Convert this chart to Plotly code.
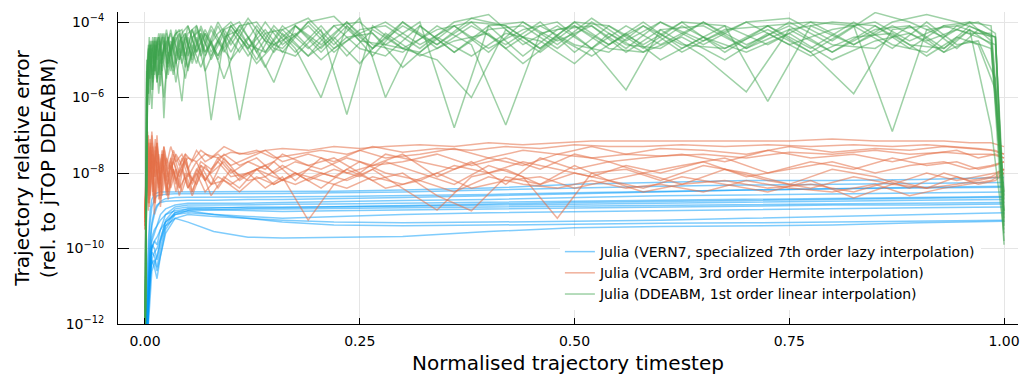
import numpy as np
import plotly.graph_objects as go

# ---------------- data (log10 of relative error) ----------------
x_grid_a = [0, 0.002, 0.004, 0.006, 0.009, 0.012, 0.016, 0.02, 0.025, 0.03,
            0.036, 0.043, 0.05, 0.06, 0.07, 0.085, 0.10, 0.12, 0.14, 0.16,
            0.19, 0.22, 0.25, 0.28, 0.32, 0.36, 0.40, 0.44, 0.48, 0.52,
            0.56, 0.60, 0.65, 0.70, 0.75, 0.80, 0.85, 0.89, 0.93, 0.96,
            0.985, 1.0]
x_grid_b = [0, 0.003, 0.005, 0.008, 0.011, 0.014, 0.018, 0.022, 0.027, 0.033,
            0.04, 0.047, 0.055, 0.065, 0.077, 0.092, 0.11, 0.13, 0.15, 0.175,
            0.205, 0.235, 0.265, 0.30, 0.34, 0.38, 0.42, 0.46, 0.50, 0.54,
            0.58, 0.625, 0.675, 0.725, 0.775, 0.825, 0.87, 0.91, 0.945, 0.97,
            0.99, 1.0]
x_grid_blue = [0, 0.002, 0.004, 0.006, 0.008, 0.011, 0.014, 0.018, 0.024, 0.035,
               0.05, 0.08, 0.12, 0.16, 0.22, 0.3, 0.4, 0.5, 0.6, 0.7, 0.8, 0.9, 1.0]

blue_log10 = [
    [-13, -11.0, -9.8, -9.0, -8.7, -8.55, -8.52, -8.5, -8.5, -8.5, -8.5, -8.5, -8.5, -8.5, -8.48, -8.45, -8.4, -8.3, -8.25, -8.2, -8.2, -8.17, -8.12],
    [-13, -11.5, -10.2, -9.3, -8.9, -8.7, -8.6, -8.58, -8.56, -8.55, -8.55, -8.55, -8.55, -8.54, -8.52, -8.5, -8.45, -8.4, -8.35, -8.32, -8.3, -8.28, -8.25],
    [-13, -11.8, -10.6, -9.8, -9.3, -9.0, -8.85, -8.78, -8.75, -8.73, -8.72, -8.72, -8.7, -8.7, -8.68, -8.65, -8.6, -8.55, -8.5, -8.45, -8.42, -8.4, -8.38],
    [-13, -12.2, -11.2, -10.3, -9.8, -9.6, -9.4, -9.1, -8.95, -8.85, -8.8, -8.8, -8.8, -8.78, -8.75, -8.73, -8.7, -8.65, -8.6, -8.58, -8.55, -8.52, -8.5],
    [-13, -12.5, -11.5, -10.6, -10.0, -9.8, -9.9, -9.5, -9.1, -8.9, -8.85, -8.85, -8.85, -8.83, -8.82, -8.8, -8.78, -8.75, -8.72, -8.7, -8.68, -8.65, -8.62],
    [-13, -12.4, -11.3, -10.4, -10.1, -10.2, -10.5, -10.0, -9.4, -9.05, -8.95, -8.92, -8.9, -8.9, -8.9, -8.88, -8.85, -8.82, -8.8, -8.78, -8.75, -8.72, -8.7],
    [-13, -12.6, -11.6, -10.7, -10.3, -10.5, -10.8, -10.2, -9.5, -9.1, -9.0, -8.98, -8.95, -8.95, -8.93, -8.92, -8.9, -8.88, -8.86, -8.84, -8.82, -8.8, -8.78],
    [-13, -12.3, -11.0, -10.1, -9.7, -9.5, -9.4, -9.25, -9.1, -9.0, -8.95, -8.97, -9.0, -9.02, -9.0, -8.98, -8.95, -8.92, -8.9, -8.88, -8.85, -8.85, -8.82],
    [-13, -12.5, -11.4, -10.5, -10.0, -9.8, -9.7, -9.5, -9.3, -9.1, -9.05, -9.1, -9.15, -9.2, -9.15, -9.1, -9.05, -9.02, -9.0, -8.98, -8.95, -8.92, -8.9],
    [-13, -12.7, -11.8, -10.9, -10.4, -10.3, -10.6, -10.2, -9.6, -9.2, -9.1, -9.15, -9.2, -9.25, -9.3, -9.32, -9.3, -9.28, -9.25, -9.2, -9.15, -9.1, -9.05],
    [-13, -12.6, -11.7, -10.8, -10.3, -10.1, -10.0, -9.7, -9.3, -9.05, -9.0, -9.1, -9.2, -9.3, -9.38, -9.4, -9.38, -9.35, -9.33, -9.32, -9.3, -9.28, -9.25],
    [-13, -12.8, -12.0, -11.2, -10.6, -10.4, -10.2, -9.8, -9.4, -9.2, -9.3, -9.55, -9.7, -9.72, -9.7, -9.68, -9.55, -9.45, -9.42, -9.4, -9.38, -9.32, -9.28],
    [-13, -12.0, -10.8, -9.9, -9.4, -9.1, -8.9, -8.75, -8.68, -8.65, -8.64, -8.64, -8.64, -8.63, -8.62, -8.6, -8.57, -8.52, -8.48, -8.45, -8.42, -8.38, -8.35],
    [-13, -12.1, -11.0, -10.2, -9.9, -10.0, -10.3, -9.8, -9.25, -8.95, -8.9, -8.92, -8.93, -8.92, -8.9, -8.86, -8.82, -8.78, -8.75, -8.72, -8.7, -8.67, -8.64],
]

orange_log10 = [
    [-9.2, -7.3, -8.6, -7.1, -8.3, -7.4, -8.4, -7.5, -8.2, -7.6, -8.3, -7.6, -8.1, -7.7, -8.2, -7.6, -8.0, -7.7, -7.9, -7.5, -7.8, -7.6, -8.0, -7.5, -7.7, -7.9, -7.6, -7.8, -7.5, -7.6, -7.5, -7.55, -7.5, -7.6, -7.45, -7.5, -7.4, -7.5, -7.45, -7.5, -7.5, -7.6],
    [-9.4, -6.9, -8.2, -7.2, -8.7, -7.3, -8.5, -7.4, -8.6, -7.6, -8.4, -7.5, -8.5, -7.8, -8.3, -7.6, -8.1, -7.9, -7.7, -8.2, -7.6, -8.0, -7.8, -7.5, -8.1, -7.7, -8.3, -7.6, -7.9, -7.7, -8.0, -7.8, -7.6, -8.0, -7.7, -7.9, -7.6, -7.8, -7.7, -7.9, -7.8, -7.7],
    [-9.0, -7.8, -7.0, -8.0, -7.3, -8.1, -7.5, -8.0, -7.6, -7.9, -7.5, -7.8, -7.6, -7.7, -7.5, -7.6, -7.45, -7.5, -7.4, -7.35, -7.4, -7.3, -7.35, -7.3, -7.25, -7.3, -7.2, -7.25, -7.2, -7.15, -7.15, -7.15, -7.15, -7.15, -7.15, -7.1, -7.15, -7.15, -7.15, -7.2, -7.2, -7.3],
    [-9.5, -7.6, -8.9, -7.5, -8.8, -7.7, -8.9, -7.8, -8.7, -7.9, -8.6, -8.0, -8.5, -7.9, -8.6, -8.1, -8.4, -7.9, -8.3, -8.0, -8.4, -7.9, -8.2, -8.0, -8.6, -9.0, -8.1, -8.3, -7.8, -8.2, -8.0, -8.3, -7.9, -8.2, -8.4, -8.1, -8.3, -8.0, -8.2, -8.1, -8.0, -7.9],
    [-9.1, -7.5, -8.8, -7.2, -8.5, -7.3, -8.7, -7.6, -8.5, -7.8, -8.5, -7.9, -8.4, -8.0, -8.5, -8.1, -8.3, -8.0, -8.4, -8.1, -9.25, -8.3, -8.0, -8.4, -8.2, -8.5, -8.1, -8.3, -8.4, -8.2, -8.4, -8.3, -8.5, -8.2, -8.4, -8.5, -8.3, -8.6, -8.4, -8.3, -8.2, -8.0],
    [-9.3, -7.1, -8.4, -7.0, -8.0, -7.2, -8.3, -7.3, -8.1, -7.5, -8.0, -7.6, -8.2, -7.7, -7.9, -7.5, -7.8, -7.6, -8.0, -7.7, -7.9, -7.6, -7.8, -7.7, -7.5, -7.8, -7.6, -7.9, -7.5, -7.7, -7.6, -7.5, -7.7, -7.4, -7.6, -7.5, -7.7, -7.5, -7.4, -7.6, -7.5, -7.6],
    [-9.3, -8.0, -7.2, -8.6, -7.5, -8.8, -7.7, -8.6, -7.8, -8.4, -7.9, -8.5, -8.0, -8.3, -7.8, -8.4, -7.9, -8.2, -8.1, -7.8, -8.2, -7.9, -8.1, -7.7, -8.0, -8.3, -7.8, -8.1, -9.2, -8.0, -7.9, -8.2, -7.8, -8.0, -8.3, -7.9, -8.1, -8.4, -8.0, -8.2, -8.1, -7.9],
    [-9.1, -7.4, -8.0, -6.9, -7.8, -7.2, -8.2, -7.3, -7.9, -7.4, -7.8, -7.5, -7.7, -7.4, -7.6, -7.3, -7.5, -7.4, -7.6, -7.5, -7.4, -7.5, -7.3, -7.45, -7.35, -7.4, -7.3, -7.35, -7.25, -7.3, -7.3, -7.25, -7.3, -7.25, -7.3, -7.25, -7.3, -7.25, -7.3, -7.35, -7.4, -7.5],
    [-9.4, -7.7, -9.0, -7.4, -8.6, -7.6, -8.3, -7.5, -8.6, -7.7, -8.2, -7.8, -8.4, -7.9, -8.2, -7.7, -8.1, -8.0, -7.8, -8.2, -7.9, -8.1, -7.7, -8.0, -8.2, -7.8, -8.0, -7.7, -7.9, -8.1, -7.8, -8.0, -7.7, -8.1, -7.9, -7.7, -8.0, -7.8, -7.7, -7.9, -7.8, -7.7],
    [-9.2, -7.2, -8.7, -7.4, -8.1, -7.0, -8.6, -7.5, -8.3, -7.7, -8.1, -7.7, -8.3, -7.8, -8.0, -7.7, -8.2, -7.9, -8.1, -8.3, -8.0, -8.2, -7.9, -8.4, -8.98, -8.1, -7.9, -8.3, -8.0, -8.2, -8.4, -8.1, -8.3, -8.5, -8.2, -8.66, -8.3, -8.4, -8.1, -8.3, -8.2, -8.0],
    [-9.0, -7.0, -8.1, -7.3, -7.9, -7.1, -8.0, -7.4, -7.8, -7.3, -7.7, -7.5, -7.9, -7.4, -7.7, -7.5, -7.8, -7.6, -7.4, -7.7, -7.5, -7.7, -7.4, -7.6, -7.5, -7.35, -7.6, -7.4, -7.5, -7.3, -7.5, -7.35, -7.4, -7.5, -7.3, -7.45, -7.35, -7.4, -7.3, -7.35, -7.4, -7.5],
    [-9.5, -7.9, -8.8, -7.7, -9.1, -7.9, -8.7, -8.0, -8.5, -7.9, -8.4, -8.1, -8.6, -8.0, -8.3, -8.2, -8.5, -8.1, -8.3, -8.0, -8.2, -8.4, -8.1, -8.3, -8.0, -8.4, -8.2, -8.1, -8.4, -8.2, -8.5, -8.3, -8.2, -8.4, -8.3, -8.5, -8.2, -8.4, -8.3, -8.2, -8.1, -7.9],
]

green_log10 = [
    [-13, -5.6, -4.7, -5.5, -4.5, -5.3, -4.4, -5.1, -4.3, -4.9, -4.2, -4.9, -4.1, -4.8, -4.3, -4.9, -4.1, -4.7, -4.2, -4.8, -4.0, -4.7, -4.3, -4.0, -4.6, -4.1, -4.8, -4.0, -4.5, -4.1, -4.7, -4.0, -4.5, -4.0, -4.6, -4.2, -4.0, -4.5, -4.1, -4.3, -4.3, -8.6],
    [-13, -5.2, -4.4, -5.8, -4.6, -5.5, -4.3, -6.55, -4.4, -5.2, -4.3, -5.0, -4.2, -4.9, -4.2, -4.8, -4.1, -4.7, -5.6, -4.1, -4.8, -4.1, -4.9, -4.0, -4.7, -4.1, -4.6, -4.0, -4.8, -4.1, -4.7, -4.0, -4.8, -4.1, -4.0, -4.6, -4.1, -4.5, -4.2, -4.4, -4.6, -9.3],
    [-13, -5.0, -5.9, -4.6, -5.6, -4.5, -5.4, -4.4, -5.2, -4.5, -5.0, -6.1, -4.4, -5.1, -4.3, -5.0, -4.2, -4.9, -4.3, -4.2, -4.9, -4.1, -4.7, -4.9, -4.1, -4.8, -4.1, -4.9, -4.2, -4.1, -4.8, -4.2, -4.9, -5.85, -4.2, -4.8, -4.1, -4.6, -4.7, -4.2, -4.6, -9.0],
    [-13, -5.9, -4.8, -4.5, -5.3, -4.6, -5.7, -4.5, -5.2, -4.4, -5.0, -4.3, -5.1, -4.3, -6.6, -4.4, -4.2, -5.0, -4.2, -4.8, -4.1, -4.9, -4.2, -4.7, -5.0, -6.0, -4.2, -4.8, -4.1, -4.7, -4.8, -4.1, -4.7, -4.2, -4.8, -4.1, -4.7, -4.0, -4.6, -4.5, -5.5, -9.8],
    [-13, -6.0, -5.1, -4.7, -5.8, -4.8, -4.5, -5.3, -4.6, -4.3, -5.1, -4.4, -5.3, -4.2, -4.9, -4.1, -4.8, -4.0, -4.8, -4.2, -3.9, -4.6, -3.9, -6.0, -4.1, -4.8, -4.2, -4.1, -4.7, -4.0, -4.6, -4.7, -4.0, -4.6, -4.1, -4.8, -4.2, -4.1, -4.7, -4.1, -4.4, -8.8],
    [-13, -5.4, -6.2, -4.8, -4.5, -5.6, -4.7, -4.4, -5.4, -4.6, -4.3, -5.2, -4.4, -4.2, -5.0, -4.3, -6.6, -4.2, -4.8, -4.1, -4.7, -4.0, -4.6, -4.8, -4.1, -4.6, -6.73, -4.3, -4.1, -4.6, -4.1, -4.8, -4.2, -4.1, -4.7, -4.0, -4.6, -4.8, -4.1, -4.3, -4.4, -9.1],
    [-13, -5.3, -4.6, -5.2, -4.4, -5.0, -4.3, -4.9, -4.2, -4.8, -4.3, -4.2, -4.9, -4.1, -4.8, -4.0, -4.6, -3.9, -4.5, -4.7, -4.0, -3.85, -4.5, -4.6, -4.0, -6.8, -4.1, -4.0, -4.6, -3.9, -4.5, -4.0, -4.6, -4.0, -3.9, -4.5, -3.75, -4.0, -4.4, -4.0, -4.1, -8.5],
    [-13, -5.7, -4.9, -4.6, -5.4, -4.4, -5.1, -4.7, -4.4, -5.3, -4.5, -4.3, -5.0, -4.1, -4.8, -4.2, -4.0, -4.8, -4.1, -4.7, -6.0, -4.1, -4.7, -4.0, -4.6, -3.9, -4.1, -4.7, -4.0, -4.6, -4.0, -4.7, -4.1, -6.1, -4.1, -4.6, -4.0, -3.8, -4.0, -4.2, -4.4, -9.2],
    [-13, -5.5, -4.8, -4.5, -5.1, -4.4, -4.9, -4.3, -4.8, -4.2, -4.9, -4.3, -4.1, -4.8, -4.2, -4.9, -4.1, -4.7, -4.0, -4.6, -4.1, -4.8, -4.2, -4.1, -4.7, -4.0, -3.8, -4.6, -4.1, -4.7, -5.8, -4.2, -4.1, -4.7, -4.0, -4.6, -4.7, -4.1, -4.8, -4.2, -6.8, -9.6],
    [-13, -5.0, -5.5, -4.7, -5.2, -4.5, -5.4, -4.6, -5.1, -4.4, -5.0, -4.4, -4.9, -4.3, -4.9, -4.2, -4.8, -4.1, -4.7, -4.9, -4.2, -6.45, -4.1, -4.7, -4.2, -4.0, -4.7, -4.1, -4.6, -4.8, -4.1, -4.6, -4.7, -4.1, -4.8, -5.9, -4.2, -4.1, -4.7, -4.2, -4.4, -8.7],
    [-13, -5.8, -5.0, -4.6, -5.5, -4.7, -4.4, -5.0, -4.5, -5.3, -4.4, -5.1, -4.3, -4.1, -4.8, -4.3, -4.0, -4.6, -4.8, -4.1, -4.7, -4.1, -4.0, -4.6, -4.8, -4.1, -4.7, -4.2, -4.0, -4.7, -4.1, -4.6, -4.0, -4.7, -4.2, -4.0, -4.1, -4.7, -4.1, -4.0, -4.5, -9.9],
    [-13, -5.6, -4.7, -5.4, -4.4, -5.0, -4.6, -4.3, -4.9, -4.4, -4.2, -4.9, -4.2, -4.8, -4.1, -4.7, -4.1, -4.0, -4.6, -4.1, -4.6, -4.0, -4.7, -4.1, -4.6, -4.0, -4.1, -4.7, -4.0, -4.1, -4.6, -4.0, -4.1, -4.6, -4.0, -4.1, -6.9, -4.2, -4.1, -4.0, -4.3, -9.4],
    [-13, -5.3, -5.9, -4.9, -5.3, -4.6, -5.9, -4.8, -5.5, -4.6, -5.6, -4.5, -5.2, -4.4, -5.3, -4.5, -5.0, -4.4, -5.2, -4.3, -4.9, -4.4, -5.1, -4.3, -4.9, -4.5, -4.3, -5.1, -4.4, -4.9, -4.3, -5.0, -4.4, -4.8, -4.3, -5.0, -4.5, -4.3, -4.8, -4.5, -4.7, -9.0],
    [-13, -5.7, -5.2, -6.3, -4.9, -5.6, -5.0, -6.0, -4.8, -5.4, -4.7, -5.5, -4.6, -5.2, -4.5, -5.5, -4.4, -5.1, -4.6, -4.3, -5.0, -4.4, -4.3, -5.2, -4.4, -4.9, -4.3, -4.5, -5.1, -4.3, -4.8, -4.4, -5.0, -4.3, -4.9, -4.4, -4.3, -4.9, -4.4, -4.6, -5.8, -9.5],
]

series_names = [
    "Julia (VERN7, specialized 7th order lazy interpolation)",
    "Julia (VCABM, 3rd order Hermite interpolation)",
    "Julia (DDEABM, 1st order linear interpolation)",
]
series_colors = ["rgba(0,154,250,0.5)", "rgba(227,111,71,0.55)", "rgba(62,164,78,0.5)"]

y_tick_vals = [1e-12, 1e-10, 1e-8, 1e-6, 1e-4]
y_tick_text = ["10<sup>−12</sup>", "10<sup>−10</sup>", "10<sup>−8</sup>", "10<sup>−6</sup>", "10<sup>−4</sup>"]
x_tick_vals = [0, 0.25, 0.5, 0.75, 1.0]
x_tick_text = ["0.00", "0.25", "0.50", "0.75", "1.00"]

# ---------------- figure ----------------
fig = go.Figure()

groups = [
    (blue_log10, [x_grid_blue]),
    (orange_log10, [x_grid_a, x_grid_b]),
    (green_log10, [x_grid_a, x_grid_b]),
]
for s, (lines, grids) in enumerate(groups):
    for i, ys in enumerate(lines):
        xs = grids[i % len(grids)]
        fig.add_trace(go.Scatter(
            x=xs, y=np.power(10.0, np.array(ys)),
            mode="lines",
            line=dict(color=series_colors[s], width=1.5),
            name=series_names[s],
            legendgroup=series_names[s],
            showlegend=(i == 0),
            hoverinfo="skip",
        ))

font_family = "DejaVu Sans, sans-serif"
fig.update_layout(
    width=1020, height=376,
    margin=dict(l=118, r=2, t=12, b=52),
    paper_bgcolor="white", plot_bgcolor="white",
    font=dict(family=font_family, color="black", size=14),
    showlegend=True,
    legend=dict(
        x=0.491, y=0.282, xanchor="left", yanchor="top",
        bgcolor="white", borderwidth=0,
        font=dict(size=14, family=font_family),
        tracegroupgap=0,
    ),
)
fig.update_xaxes(
    range=[-0.0314, 1.0163],
    automargin=False,
    tickvals=x_tick_vals, ticktext=x_tick_text,
    showgrid=True, gridcolor="#e5e5e5", gridwidth=1,
    zeroline=False,
    showline=True, linecolor="black", linewidth=1,
    ticks="inside", ticklen=6, tickcolor="black",
    tickfont=dict(size=14), ticklabelstandoff=4,
    title=dict(text="Normalised trajectory timestep", font=dict(size=20), standoff=8),
)
fig.update_yaxes(
    type="log",
    range=[-12, -3.734],
    automargin=False,
    tickvals=y_tick_vals, ticktext=y_tick_text,
    showgrid=True, gridcolor="#e5e5e5", gridwidth=1,
    zeroline=False,
    showline=True, linecolor="black", linewidth=1,
    ticks="inside", ticklen=11, tickcolor="black",
    tickfont=dict(size=14), ticklabelstandoff=10,
    title=dict(text="Trajectory relative error<br>(rel. to jTOP DDEABM)", font=dict(size=20), standoff=4),
)

fig.write_html("out.html", config={"displayModeBar": False})

# remove the browser's default page margin so the figure sits at the window origin
with open("out.html", "r", encoding="utf-8") as fh:
    page = fh.read()
page = page.replace("<head>", "<head><style>html,body{margin:0;padding:0;}</style>", 1)
with open("out.html", "w", encoding="utf-8") as fh:
    fh.write(page)
